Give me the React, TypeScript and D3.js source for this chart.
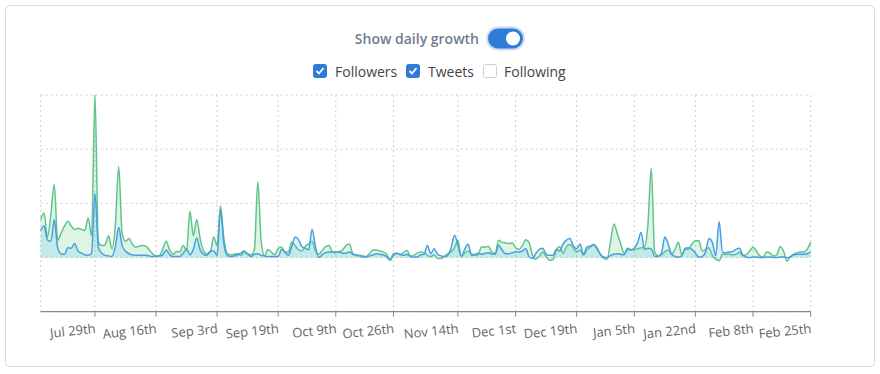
import React from "react";
import { scaleLinear, area, line, curveMonotoneX } from "d3";

const WIDTH = 880;
const HEIGHT = 374;
const PLOT_LEFT = 40.7;
const PLOT_RIGHT = 810.7;
const PLOT_TOP = 95;
const PLOT_BOTTOM = 311.7;
const FONT = "'Open Sans', 'Noto Sans', sans-serif";

// daily follower growth (green)
const followers = [
  70, 82, 38, 80, 135, 32, 45, 58, 67, 58, 52, 54, 52, 50, 73, 40, 300, 28, 22, 24,
  40, 16, 60, 168, 45, 30, 35, 25, 19, 21, 22, 21, 14, 7, 3, 4, 16, 30, 14, 6,
  11, 10, 22, 14, 85, 40, 70, 35, 12, 7, 10, 38, 22, 95, 35, 8, 5, 6, 7, 4,
  10, 7, 5, 15, 140, 30, 3, 15, 10, 5, 17, 19, 10, 10, 28, 22, 14, 12, 21, 25,
  30, 12, 6, 13, 20, 22, 10, 9, 11, 14, 22, 25, 8, 5, 4, 3, 2, 8, 14, 14,
  12, 10, 6, -4, 7, 8, 5, 9, 13, 3, 4, 8, 10, 9, 4, 2, 5, -2, -2, 2,
  7, 11, 18, 32, 2, 8, 12, 7, 4, 6, 20, 19, 21, 10, 8, 32, 28, 27, 26, 27,
  18, 15, 22, 33, 27, 4, -3, 3, 10, 2, -5, -4, 14, 20, 8, 20, 24, 18, 10, 14,
  4, 14, 19, 23, 15, 6, -2, -3, 30, 62, 44, 25, 8, 14, 15, 15, 16, 18, 19, 60,
  165, 10, 3, 5, 11, 14, 6, 15, 28, 5, 15, 15, 25, 31, 31, 12, 15, 18, 4, -3,
  -6, 6, 6, 6, 5, 6, 10, 4, 5, 12, 19, 12, 3, 1, 10, 8, 3, 5, 20, 12,
  -7, 2, 6, 9, 10, 10, 16, 28,
];

// daily tweet growth (blue)
const tweets = [
  50, 58, 32, 30, 70, 18, 7, 6, 18, 17, 26, 12, 8, 5, 4, 8, 118, 18, 8, 4,
  3, 2, 20, 56, 22, 12, 7, 5, 4, 4, 4, 4, 3, 2, 3, 3, 5, 14, 5, 2,
  2, 2, 8, 16, 5, 15, 36, 14, 6, 4, 12, 12, 4, 88, 25, 4, 2, 3, 5, 8,
  12, 6, 2, 6, 7, 4, 3, 2, 2, 2, 2, 15, 10, 4, 20, 38, 33, 20, 17, 14,
  52, 20, 0, 5, 9, 10, 10, 10, 10, 8, 8, 10, 6, 4, 3, 1, 1, 3, 5, 7,
  6, 5, 1, -5, 4, 8, 6, 4, 6, 2, 1, 1, 5, 6, 22, 7, 16, 6, 3, 2,
  4, 18, 41, 23, 2, 15, 25, 4, 6, 8, 6, 8, 9, 6, 6, 23, 14, 7, 7, 9,
  10, 10, 12, 16, 1, -2, 8, 15, 17, 6, 4, 4, 15, 12, 25, 32, 35, 22, 16, 25,
  6, 19, 21, 24, 18, 6, 1, 0, 4, 6, 7, 6, 5, 17, 14, 17, 28, 46, 15, 17,
  16, 2, 2, 8, 38, 25, 6, 2, 1, 3, 17, 18, 15, 8, 1, 2, 10, 35, 28, 3,
  66, 10, 9, 10, 11, 15, 17, 4, 1, 0, 1, 1, 0, 0, 1, 1, 0, 0, 1, 1,
  0, 1, 5, 6, 6, 6, 7, 10,
];

const tickLabels = [
  "Jul 29th", "Aug 16th", "Sep 3rd", "Sep 19th", "Oct 9th", "Oct 26th", "Nov 14th",
  "Dec 1st", "Dec 19th", "Jan 5th", "Jan 22nd", "Feb 8th", "Feb 25th",
];
const tickIndex = [16, 34, 52, 70, 87, 104, 123, 140, 158, 175, 193, 210, 227];
const yTicks = [-100, 0, 100, 200, 300];

const legend = [
  { name: "Followers", checked: true, box: 313, text: 335 },
  { name: "Tweets", checked: true, box: 406, text: 428 },
  { name: "Following", checked: false, box: 483, text: 504 },
];

const xScale = scaleLinear().domain([0, followers.length - 1]).range([PLOT_LEFT, PLOT_RIGHT]);
const yScale = scaleLinear().domain([-100, 300]).range([PLOT_BOTTOM, PLOT_TOP]);

const makeArea = area<number>()
  .x((_, i) => xScale(i))
  .y0(yScale(0))
  .y1(d => yScale(d))
  .curve(curveMonotoneX);

const makeLine = line<number>()
  .x((_, i) => xScale(i))
  .y(d => yScale(d))
  .curve(curveMonotoneX);

const series = [
  { values: followers, stroke: "#5fc48a", fill: "rgba(90, 205, 130, 0.2)" },
  { values: tweets, stroke: "#4b9fe0", fill: "rgba(80, 190, 240, 0.2)" },
];

export default function App() {
  return (
    <svg
      width={WIDTH}
      height={HEIGHT}
      style={{ position: "absolute", left: 0, top: 0, background: "#fff" }}
      fontFamily={FONT}
    >
      <rect x={5.5} y={5.5} width={869} height={361} rx={4} fill="#fff" stroke="#dcdcdc" />

      {/* header toggle */}
      <text x={479} y={44} textAnchor="end" fontSize={14} fontWeight={600} fill="#6f7c8f">
        Show daily growth
      </text>
      <rect x={486} y={26.5} width={39} height={24} rx={12} fill="#a9c9f0" opacity={0.6} />
      <rect x={488} y={28.5} width={35} height={20} rx={10} fill="#2f7bd6" />
      <circle cx={513} cy={38.5} r={7} fill="#fff" />

      {/* legend */}
      {legend.map(l => (
        <g key={l.name}>
          <rect
            x={l.box + 0.5}
            y={64.5}
            width={13}
            height={13}
            rx={2}
            fill={l.checked ? "#2f7bd6" : "#fff"}
            stroke={l.checked ? "#2f7bd6" : "#cfcfcf"}
          />
          {l.checked && (
            <polyline
              points={`${l.box + 3.5},${71} ${l.box + 6},${73.5} ${l.box + 10.5},${68}`}
              fill="none"
              stroke="#fff"
              strokeWidth={1.8}
            />
          )}
          <text x={l.text} y={76.5} fontSize={14} fill="#444">
            {l.name}
          </text>
        </g>
      ))}

      {/* grid */}
      {yTicks.map(t => (
        <line
          key={t}
          x1={PLOT_LEFT}
          x2={PLOT_RIGHT}
          y1={yScale(t)}
          y2={yScale(t)}
          stroke="#cfcfcf"
          strokeDasharray="2,3"
        />
      ))}
      {[0, ...tickIndex].map(i => (
        <line
          key={i}
          x1={xScale(i)}
          x2={xScale(i)}
          y1={PLOT_TOP}
          y2={PLOT_BOTTOM}
          stroke="#cfcfcf"
          strokeDasharray="2,3"
        />
      ))}

      {/* series */}
      {series.map((s, k) => (
        <path key={"a" + k} d={makeArea(s.values) || ""} fill={s.fill} />
      ))}
      {series.map((s, k) => (
        <path key={"l" + k} d={makeLine(s.values) || ""} fill="none" stroke={s.stroke} strokeWidth={1.5} />
      ))}

      {/* x axis */}
      <line x1={PLOT_LEFT} x2={PLOT_RIGHT} y1={PLOT_BOTTOM} y2={PLOT_BOTTOM} stroke="#888" strokeWidth={1.2} />
      {tickIndex.map((i, k) => (
        <g key={i}>
          <line x1={xScale(i)} x2={xScale(i)} y1={PLOT_BOTTOM} y2={PLOT_BOTTOM + 5} stroke="#888" />
          <text
            transform={`translate(${xScale(i) + 1},333) rotate(-6)`}
            textAnchor="end"
            fontSize={13}
            fill="#666"
          >
            {tickLabels[k]}
          </text>
        </g>
      ))}
    </svg>
  );
}
